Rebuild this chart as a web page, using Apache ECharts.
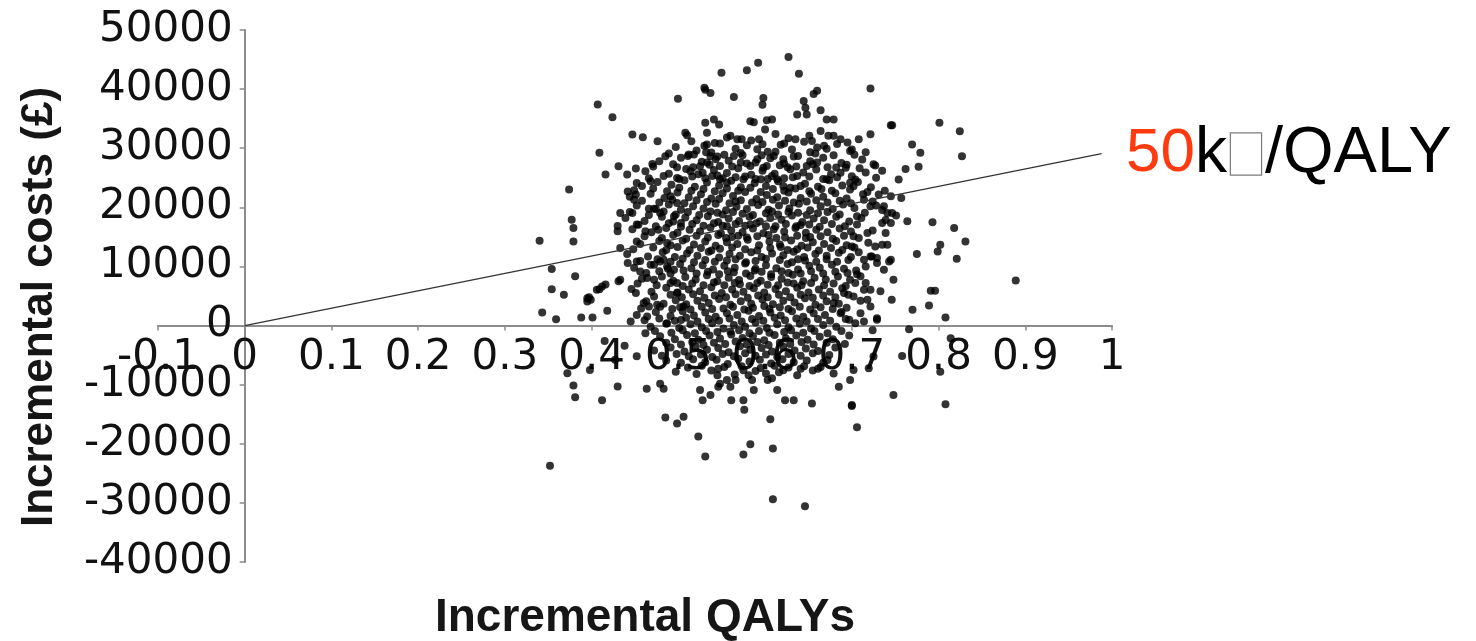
<!DOCTYPE html>
<html>
<head>
<meta charset="utf-8">
<script src="https://cdn.jsdelivr.net/npm/echarts@6/dist/echarts.min.js"></script>
<style>
html, body { margin: 0; padding: 0; background: #fff; }
#chart { width: 1476px; height: 641px; }
</style>
</head>
<body>
<div id="chart"></div>
<script>
// axis ranges: [min, max, step]
const qalyRange = [-0.1, 1, 0.1];
const costRange = [-40000, 50000, 10000];

const xTitle = 'Incremental QALYs';
const yTitle = 'Incremental costs (£)';
const thresholdRed = '50';
const thresholdK = 'k';
const thresholdTail = '/QALY';

// threshold line end points (QALY, cost)
const thresholdLine = [[0, 0], [0.988, 29100]];

// bootstrap replicates, outer points first
const edgePoints = [
    [0.352,-23700],[0.340,14360],[0.374,23000],[0.377,17910],[0.379,16500],[0.379,14240],
    [0.354,9560],[0.381,8360],[0.354,6160],[0.368,5200],[0.343,2200],[0.359,1080],
    [0.388,1350],[0.401,1350],[0.418,2490],[0.397,4800],[0.395,4070],[0.409,6160],
    [0.416,6950],[0.431,7510],[0.407,37410],[0.424,35260],[0.4995,38370],[0.530,40240],
    [0.537,39330],[0.531,39890],[0.447,32320],[0.459,31870],[0.476,31190],[0.409,29220],
    [0.431,26950],[0.451,26570],[0.441,25540],[0.416,25540],[0.452,24120],[0.468,24400],
    [0.470,27340],[0.485,28640],[0.510,32200],[0.512,28930],[0.518,28930],[0.4985,26780],
    [0.4985,24970],[0.514,26100],[0.525,26950],[0.533,30630],[0.537,28640],
    [0.5497,42770],[0.579,43180],[0.592,44480],[0.627,45430],[0.639,42610],[0.7215,40120],
    [0.564,38650],[0.598,38480],[0.597,37350],[0.660,39720],[0.656,39160],[0.6445,37980],
    [0.6465,36850],[0.637,35720],[0.648,35720],[0.664,36410],[0.671,34860],[0.679,34860],
    [0.745,33870],[0.801,34300],[0.583,34580],[0.587,34410],[0.541,34860],[0.547,34010],
    [0.531,34300],[0.533,32600],[0.602,34750],[0.608,34860],[0.600,33170],
    [0.560,32090],[0.568,31530],[0.573,31530],[0.593,31530],[0.597,30680],[0.591,29830],
    [0.635,31530],[0.651,32090],[0.654,31240],[0.660,30120],[0.668,30400],[0.673,32090],
    [0.679,32090],[0.687,31530],[0.695,30960],[0.708,31530],[0.7215,32370],[0.698,29550],
    [0.725,27300],[0.682,26740],[0.7465,33900],[0.8245,32880],[0.827,28650],[0.7695,30630],
    [0.779,29220],[0.777,26850],[0.762,26500],[0.754,24700],[0.727,27070],[0.700,29780],
    [0.757,21590],[0.764,17630],[0.793,17460],[0.818,16500],[0.831,14240],[0.802,13680],
    [0.799,12540],[0.775,12100],[0.821,11300],[0.889,7630],[0.748,7750],[0.746,4360],
    [0.791,5880],[0.796,5880],[0.789,3390],[0.770,2660],[0.808,1360],[0.729,1250],
    [0.766,-610],[0.758,-5140],[0.802,-7800],[0.814,-2140],[0.748,-11750],[0.808,-13320],
    [0.700,-13440],[0.702,-7510],
    [0.731,22150],[0.745,21870],[0.714,21300],[0.7215,20200],[0.737,20200],[0.741,19050],
    [0.7465,19050],[0.735,17360],[0.745,17360],[0.739,15660],[0.718,15660],[0.727,13390],
    [0.735,13680],[0.741,13680],[0.714,11140],[0.7215,11700],[0.729,10580],[0.743,10850],
    [0.737,9440],[0.710,8360],[0.716,7190],[0.7215,6050],[0.718,4360],[0.7215,3220],
    [0.710,2100],[0.714,680],[0.704,400],[0.700,25270],[0.702,23560],[0.706,18480],
    [0.702,15090],[0.700,13390],
    [0.530,30400],[0.538,29270],[0.533,27570],[0.543,28130],[0.548,27000],[0.528,25860],
    [0.539,25300],[0.548,24740],[0.556,24170],[0.564,28680],[0.572,27570],[0.583,27000],
    [0.591,28130],[0.602,27000],[0.610,28680],[0.621,28130],[0.629,26430],[0.614,24740],
    [0.595,24740],[0.575,24740],[0.637,25300],[0.648,27000],[0.660,27570],[0.671,24740],
    [0.687,25860],[0.698,24170],[0.641,23600],[0.621,23600],
    [0.4416,22660],[0.451,22150],[0.449,21300],[0.466,19780],[0.472,19780],[0.433,19050],
    [0.447,19050],[0.430,16830],[0.430,15970],[0.454,17070],[0.462,15970],[0.477,16220],
    [0.452,14240],[0.433,13110],[0.4416,10580],[0.452,10850],[0.468,10290],[0.456,9160],
    [0.464,8030],[0.472,7750],[0.479,10850],[0.487,10010],[0.433,7750],[0.406,6050],
    [0.412,6610],[0.395,4640],[0.399,4360],[0.451,5490],[0.460,3800],[0.466,3220],
    [0.4755,3510],[0.464,1530],[0.445,680],[0.487,13960],[0.479,19050],[0.491,21870],
    [0.4985,20740],[0.495,18480],[0.503,17360],[0.483,11140],[0.495,9440],[0.4985,7190],
    [0.4985,5490],[0.506,3220],[0.503,960],[0.487,400],
    [0.379,-10120],[0.381,-12110],[0.412,-12650],[0.430,-10290],[0.4635,-10680],[0.479,-9830],
    [0.483,-10680],[0.485,-15540],[0.4985,-16560],[0.506,-15430],[0.523,-18760],[0.531,-22150],
    [0.525,-10910],[0.537,-11750],[0.528,-12650],[0.546,-10340],[0.462,-1290],[0.398,-7510],
    [0.372,-8080],
    [0.685,-10340],[0.700,-13610],[0.706,-17220],[0.698,-9210],[0.654,-13170],[0.623,-12650],
    [0.633,-12650],[0.606,-15870],[0.583,-20100],[0.575,-21800],[0.609,-20780],[0.609,-29370],
    [0.646,-30560],[0.561,-12650],[0.575,-12650],[0.576,-14230],[0.587,-10910],[0.614,-10910],
    [0.560,-10340],[0.556,-9210],[0.548,-9830],[0.545,-8420],[0.553,-7010],[0.603,-9210],
    [0.608,-8930],[0.585,-9210],[0.566,-9210],[0.575,-7570],[0.581,-8420],[0.621,-7570],
    [0.641,-7290],[0.664,-7010],[0.672,-5820],[0.725,-5250],[0.7195,-7220],
    [0.735,19560],[0.739,17870],[0.723,11700],[0.729,11420],[0.745,11140],[0.695,8880],
    [0.698,7750],[0.704,7190],[0.691,5490],[0.702,4920],[0.714,6050],[0.679,3800],
    [0.687,2100],[0.697,970],[0.729,970],
    [0.415,-2600],[0.438,-3400],[0.452,-5200],[0.427,-5800]
];

// the dense middle of the cloud, read band by band
const corePoints = [
    [0.508,32600],[0.556,31800],[0.612,32400],[0.627,31700],[0.664,32900],
    [0.497,30200],[0.521,29600],[0.548,30800],[0.566,29900],[0.579,30500],[0.603,29400],
    [0.618,30600],[0.631,29800],[0.652,29300],[0.671,29900],[0.703,28900],
    [0.478,27800],[0.503,28400],[0.527,27700],[0.545,28600],[0.558,27900],[0.574,28800],
    [0.589,27600],[0.606,28300],[0.622,27400],[0.638,28700],[0.652,27800],[0.667,28400],
    [0.688,27500],[0.712,28100],
    [0.462,26100],[0.489,25700],[0.509,26500],[0.523,25600],[0.541,26300],[0.556,25800],
    [0.569,26600],[0.584,25500],[0.597,26200],[0.611,25700],[0.626,26800],[0.644,25900],
    [0.659,26400],[0.676,25600],[0.693,26700],[0.716,25900],[0.735,26200],
    [0.458,23600],[0.476,24300],[0.492,23800],[0.507,24600],[0.519,23500],[0.533,24200],
    [0.547,23700],[0.561,24500],[0.572,23400],[0.588,24100],[0.601,23600],[0.615,24400],
    [0.629,23300],[0.646,24000],[0.661,23500],[0.674,24600],[0.689,23700],[0.707,24300],
    [0.722,23400],
    [0.444,21800],[0.468,22300],[0.484,21600],[0.499,22500],[0.512,21700],[0.526,22200],
    [0.538,21500],[0.551,22400],[0.563,21900],[0.577,22600],[0.590,21400],[0.602,22100],
    [0.614,21700],[0.627,22500],[0.641,21600],[0.653,22300],[0.667,21800],[0.681,22400],
    [0.694,21500],[0.713,22200],[0.738,22800],
    [0.452,20300],[0.474,19700],[0.489,20500],[0.503,19600],[0.517,20200],[0.529,19800],
    [0.543,20600],[0.555,19500],[0.567,20100],[0.579,19700],[0.592,20400],[0.604,19600],
    [0.616,20300],[0.628,19800],[0.639,20600],[0.652,19500],[0.664,20200],[0.678,19700],
    [0.690,20500],[0.703,19900],[0.728,20300],
    [0.439,18200],[0.461,17700],[0.481,18400],[0.494,17600],[0.508,18300],[0.521,17800],
    [0.534,18500],[0.546,17500],[0.558,18100],[0.570,17700],[0.582,18400],[0.594,17600],
    [0.606,18200],[0.619,17900],[0.631,18600],[0.643,17500],[0.656,18100],[0.668,17800],
    [0.682,18400],[0.697,17600],[0.711,18200],[0.751,18600],
    [0.447,16300],[0.469,15800],[0.486,16500],[0.499,15700],[0.513,16200],[0.525,15900],
    [0.537,16600],[0.549,15600],[0.561,16100],[0.574,15800],[0.586,16400],[0.598,15600],
    [0.610,16300],[0.622,15900],[0.635,16500],[0.647,15700],[0.659,16200],[0.672,15800],
    [0.686,16400],[0.699,15900],[0.724,16100],
    [0.456,13800],[0.478,14300],[0.491,13600],[0.505,14400],[0.518,13700],[0.531,14200],
    [0.543,13500],[0.556,14100],[0.568,13800],[0.580,14500],[0.593,13600],[0.605,14200],
    [0.617,13700],[0.630,14400],[0.642,13500],[0.655,14100],[0.668,13800],[0.682,14300],
    [0.694,13600],[0.719,14000],
    [0.441,12100],[0.465,11700],[0.482,12400],[0.496,11600],[0.510,12200],[0.522,11800],
    [0.535,12500],[0.547,11500],[0.559,12100],[0.571,11800],[0.584,12400],[0.596,11600],
    [0.608,12200],[0.621,11900],[0.633,12500],[0.645,11600],[0.658,12100],[0.671,11800],
    [0.685,12300],[0.699,11600],[0.708,12400],
    [0.449,9800],[0.472,10300],[0.488,9600],[0.502,10400],[0.515,9700],[0.528,10200],
    [0.540,9500],[0.553,10100],[0.565,9800],[0.577,10500],[0.589,9600],[0.601,10200],
    [0.613,9700],[0.626,10400],[0.638,9500],[0.651,10100],[0.663,9800],[0.677,10300],
    [0.691,9600],[0.716,10000],
    [0.458,7900],[0.481,8300],[0.494,7600],[0.508,8200],[0.520,7800],[0.533,8500],
    [0.545,7500],[0.558,8100],[0.570,7700],[0.583,8400],[0.595,7600],[0.607,8200],
    [0.619,7900],[0.632,8600],[0.644,7500],[0.657,8100],[0.670,7800],[0.684,8300],
    [0.706,8700],
    [0.446,6200],[0.469,5700],[0.486,6400],[0.499,5600],[0.512,6100],[0.525,5800],
    [0.538,6500],[0.550,5500],[0.562,6100],[0.575,5700],[0.587,6300],[0.599,5600],
    [0.612,6200],[0.624,5800],[0.637,6400],[0.650,5600],[0.662,6100],[0.675,5700],
    [0.689,6300],[0.733,5800],
    [0.463,4100],[0.483,3700],[0.497,4300],[0.509,3600],[0.522,4200],[0.535,3800],
    [0.547,4500],[0.560,3500],[0.572,4100],[0.584,3700],[0.597,4400],[0.609,3600],
    [0.621,4200],[0.634,3900],[0.646,4600],[0.658,3500],[0.671,4100],[0.685,3700],
    [0.710,4200],
    [0.452,1800],[0.474,2300],[0.491,1600],[0.505,2400],[0.518,1700],[0.531,2200],
    [0.543,1500],[0.556,2100],[0.568,1800],[0.581,2500],[0.593,1600],[0.606,2200],
    [0.618,1700],[0.631,2400],[0.644,1500],[0.656,2100],[0.669,1800],[0.688,2300],
    [0.468,-200],[0.486,300],[0.501,-400],[0.514,200],[0.527,-300],[0.539,400],
    [0.552,-500],[0.564,100],[0.577,-200],[0.589,500],[0.602,-400],[0.614,200],
    [0.627,-300],[0.640,300],[0.653,-500],[0.667,100],[0.682,-200],[0.724,-800],
    [0.479,-1800],[0.496,-2300],[0.510,-1600],[0.523,-2400],[0.536,-1700],[0.548,-2200],
    [0.561,-1500],[0.574,-2100],[0.586,-1800],[0.599,-2500],[0.611,-1600],[0.624,-2200],
    [0.636,-1700],[0.649,-2400],[0.663,-1900],[0.678,-2300],[0.697,-1700],
    [0.472,-4200],[0.491,-3700],[0.507,-4400],[0.520,-3600],[0.533,-4100],[0.546,-3800],
    [0.558,-4500],[0.571,-3500],[0.583,-4100],[0.596,-3800],[0.608,-4400],[0.621,-3600],
    [0.634,-4200],[0.647,-3900],[0.661,-4300],[0.681,-3700],
    [0.486,-5900],[0.503,-6300],[0.517,-5700],[0.531,-6200],[0.544,-5800],[0.557,-6500],
    [0.569,-5600],[0.582,-6100],[0.594,-5800],[0.607,-6400],[0.620,-5700],[0.633,-6200],
    [0.648,-5900],[0.667,-6300],
    [0.497,-7800],[0.521,-8200],[0.538,-7600],[0.565,-8300],[0.589,-7700],[0.601,-8100],
    [0.616,-7900],[0.637,-8400],[0.655,-7600],[0.679,-8100],
    [0.551,24900],[0.577,25200],[0.603,24800],[0.632,25100],[0.566,21000],[0.597,20900],
    [0.623,21100],[0.648,21000],[0.545,19100],[0.574,18900],[0.601,19000],[0.627,19200],
    [0.661,19000],[0.551,16900],[0.583,17100],[0.612,16800],[0.641,17000],[0.562,15000],
    [0.591,15100],[0.623,14900],[0.652,15000],[0.548,13000],[0.577,12900],[0.606,13100],
    [0.637,12900],[0.556,11000],[0.589,10900],[0.617,11100],[0.646,11000],[0.564,9000],
    [0.596,9100],[0.627,8900],[0.571,7000],[0.603,6900],[0.633,7100],[0.552,2900],
    [0.586,3000],[0.617,3100],[0.560,-1000],[0.593,-900],[0.622,-1100]
];

// second pass over the core, the points between the first rows
const coreFill = [
    [0.515,31200],[0.542,30900],[0.584,31300],[0.622,30800],[0.645,31100],[0.683,30700],
    [0.489,29100],[0.511,28700],[0.532,29300],[0.553,28900],[0.572,29200],[0.596,28800],
    [0.612,29400],[0.633,28600],[0.658,29100],[0.679,28800],[0.716,29300],
    [0.471,26900],[0.494,27300],[0.517,26800],[0.536,27200],[0.562,26900],[0.579,27400],
    [0.598,26700],[0.617,27100],[0.636,26900],[0.655,27300],[0.672,26800],[0.694,27200],
    [0.709,26600],
    [0.466,24900],[0.483,25300],[0.501,24800],[0.516,25200],[0.531,24900],[0.545,25400],
    [0.566,25100],[0.589,24800],[0.608,25300],[0.622,24900],[0.651,25200],[0.667,24800],
    [0.683,25100],[0.704,24700],[0.728,25000],
    [0.449,22900],[0.471,23200],[0.487,22700],[0.501,23300],[0.515,22800],[0.529,23100],
    [0.542,22700],[0.556,23200],[0.569,22800],[0.583,23300],[0.595,22600],[0.609,23100],
    [0.622,22800],[0.635,23200],[0.651,22700],[0.665,23100],[0.677,22800],[0.698,23000],
    [0.718,22600],
    [0.458,21100],[0.478,20800],[0.493,21300],[0.507,20700],[0.521,21200],[0.533,20900],
    [0.547,21400],[0.559,20700],[0.572,21200],[0.585,20800],[0.609,21300],[0.633,20800],
    [0.659,21200],[0.672,20800],[0.686,21100],[0.699,20700],[0.724,21000],
    [0.444,19200],[0.466,18700],[0.483,19300],[0.497,18800],[0.511,19200],[0.524,18700],
    [0.537,19300],[0.551,18800],[0.563,19200],[0.586,18700],[0.608,19300],[0.615,18800],
    [0.638,19100],[0.648,18700],[0.672,19200],[0.686,18800],[0.715,19100],
    [0.452,17100],[0.474,16800],[0.489,17300],[0.503,16700],[0.516,17200],[0.529,16900],
    [0.541,17300],[0.556,16800],[0.566,17200],[0.577,16900],[0.590,17300],[0.601,16800],
    [0.624,17200],[0.636,16800],[0.651,17100],[0.663,16700],[0.677,17200],[0.692,16800],
    [0.706,17100],
    [0.461,15100],[0.481,14800],[0.494,15300],[0.509,14700],[0.521,15200],[0.534,14900],
    [0.546,15300],[0.555,14800],[0.569,15200],[0.579,14900],[0.604,15300],[0.613,14800],
    [0.637,15200],[0.647,14800],[0.664,15100],[0.678,14700],[0.691,15200],[0.708,14800],
    [0.448,12900],[0.471,13200],[0.486,12800],[0.499,13300],[0.513,12800],[0.526,13100],
    [0.538,12700],[0.562,13200],[0.591,12700],[0.618,13300],[0.626,12800],[0.649,13200],
    [0.662,12700],[0.676,13100],[0.689,12800],[0.703,13200],
    [0.456,10900],[0.476,11200],[0.491,10800],[0.505,11300],[0.518,10700],[0.531,11100],
    [0.542,10800],[0.566,11200],[0.578,10700],[0.601,11300],[0.631,10700],[0.638,11200],
    [0.659,10800],[0.671,11200],[0.683,10800],[0.696,11100],
    [0.463,8900],[0.478,9200],[0.491,8800],[0.506,9300],[0.521,8800],[0.534,9100],
    [0.547,8700],[0.557,9200],[0.578,8800],[0.588,9300],[0.607,8700],[0.619,9200],
    [0.641,8800],[0.653,9200],[0.667,8800],[0.681,9100],[0.705,9300],
    [0.453,7100],[0.475,6800],[0.491,7200],[0.505,6700],[0.516,7100],[0.529,6800],
    [0.541,7300],[0.553,6800],[0.565,7200],[0.582,6700],[0.591,7200],[0.615,6800],
    [0.626,7300],[0.642,6800],[0.653,7200],[0.668,6800],[0.679,7100],[0.693,6700],
    [0.472,4900],[0.491,5200],[0.504,4800],[0.517,5300],[0.530,4700],[0.542,5100],
    [0.555,4800],[0.566,5300],[0.580,4700],[0.592,5100],[0.603,4800],[0.616,5200],
    [0.629,4800],[0.641,5200],[0.655,4700],[0.667,5100],[0.681,4800],[0.696,5200],
    [0.457,2900],[0.479,3200],[0.493,2800],[0.502,3100],[0.514,2700],[0.527,3200],
    [0.539,2800],[0.563,3200],[0.576,2700],[0.599,3300],[0.605,2800],[0.627,2800],
    [0.640,3200],[0.652,2700],[0.664,3100],[0.678,2800],[0.694,3000],
    [0.461,900],[0.478,1200],[0.496,800],[0.509,1300],[0.522,700],[0.535,1100],
    [0.547,800],[0.559,1200],[0.573,700],[0.585,1100],[0.598,800],[0.611,1300],
    [0.623,900],[0.636,1200],[0.648,700],[0.661,1100],[0.675,800],[0.693,1100],
    [0.473,-900],[0.492,-1200],[0.505,-800],[0.519,-1300],[0.532,-900],[0.545,-1100],
    [0.570,-800],[0.582,-1300],[0.605,-1200],[0.630,-800],[0.644,-1200],[0.657,-900],
    [0.672,-1300],[0.688,-900],
    [0.486,-2900],[0.503,-3200],[0.516,-2800],[0.529,-3300],[0.541,-2900],[0.554,-3100],
    [0.566,-2700],[0.579,-3200],[0.591,-2800],[0.604,-3300],[0.617,-2900],[0.629,-3100],
    [0.642,-2800],[0.656,-3200],[0.671,-2900],[0.692,-3100],
    [0.481,-5100],[0.498,-4800],[0.512,-5200],[0.526,-4900],[0.539,-5300],[0.551,-4800],
    [0.564,-5200],[0.577,-4700],[0.589,-5100],[0.601,-4900],[0.614,-5300],[0.627,-4800],
    [0.641,-5100],[0.655,-4700],[0.674,-5000],
    [0.511,-7100],[0.527,-6800],[0.546,-7300],[0.573,-6900],[0.595,-7200],[0.611,-6800],
    [0.627,-7100],[0.645,-6900],[0.661,-7300]
];

const axisColor = '#8c8c8c';
const labelFont = {fontFamily: 'DejaVu Sans', fontSize: 42, color: '#111'};
const gridBox = {left: 158, right: 364, top: 30, bottom: 79};

// where zero sits inside the grid, so both axes can be shifted onto it
const gridW = 1476 - gridBox.left - gridBox.right;
const gridH = 641 - gridBox.top - gridBox.bottom;
const zeroX = gridW * (0 - qalyRange[0]) / (qalyRange[1] - qalyRange[0]);
const zeroY = gridH * (0 - costRange[0]) / (costRange[1] - costRange[0]);

const chart = echarts.init(document.getElementById('chart'), null, {renderer: 'canvas'});

chart.setOption({
    animation: false,
    backgroundColor: '#fff',
    grid: {...gridBox, containLabel: false, outerBoundsMode: 'none'},
    xAxis: {
        type: 'value',
        position: 'bottom',
        offset: -zeroY,
        min: qalyRange[0],
        max: qalyRange[1],
        interval: qalyRange[2],
        splitLine: {show: false},
        axisLine: {onZero: false, lineStyle: {color: axisColor, width: 2}},
        axisTick: {length: 5, lineStyle: {color: axisColor, width: 1.5}},
        axisLabel: {...labelFont, margin: 12, formatter: v => String(+v.toFixed(1))},
    },
    yAxis: {
        type: 'value',
        position: 'left',
        offset: -zeroX,
        min: costRange[0],
        max: costRange[1],
        interval: costRange[2],
        splitLine: {show: false},
        axisLine: {onZero: false, lineStyle: {color: axisColor, width: 2}},
        axisTick: {length: 5, lineStyle: {color: axisColor, width: 1.5}},
        axisLabel: {...labelFont, margin: 12, formatter: v => String(v)},
    },
    series: [{
        type: 'scatter',
        data: edgePoints.concat(corePoints, coreFill),
        symbol: 'circle',
        symbolSize: 8,
        itemStyle: {color: '#000'},
        emphasis: {disabled: true},
        z: 2,
    }, {
        type: 'line',
        data: thresholdLine,
        showSymbol: false,
        symbol: 'none',
        lineStyle: {color: '#333', width: 1.2},
        emphasis: {disabled: true},
        z: 3,
    }],
    graphic: [{
        type: 'text',
        x: 40,
        y: 307,
        rotation: Math.PI / 2,
        style: {
            text: yTitle,
            fontFamily: 'Liberation Sans',
            fontWeight: 'bold',
            fontSize: 44,
            fill: '#161616',
            align: 'center',
            verticalAlign: 'middle',
        },
    }, {
        type: 'text',
        x: 645,
        y: 618,
        style: {
            text: xTitle,
            fontFamily: 'Liberation Sans',
            fontWeight: 'bold',
            fontSize: 46,
            fill: '#161616',
            align: 'center',
            verticalAlign: 'middle',
        },
    }, {
        // the glyph box in the label is drawn as an empty framed slot
        type: 'text',
        x: 1126,
        y: 154,
        style: {
            text: '{r|' + thresholdRed + '}{k|' + thresholdK + '}{g| }{b| }{g| }{q|' + thresholdTail + '}',
            verticalAlign: 'middle',
            rich: {
                r: {fill: '#ff3a10', fontFamily: 'Liberation Sans', fontSize: 62},
                k: {fill: '#000', fontFamily: 'Liberation Sans', fontSize: 64},
                q: {fill: '#000', fontFamily: 'Liberation Sans', fontSize: 65},
                g: {fontSize: 62, width: 4},
                b: {
                    fontSize: 62, width: 30, height: 41, borderColor: '#7a7a7a',
                    borderWidth: 1.2, backgroundColor: '#fff',
                },
            },
        },
    }],
});
</script>
</body>
</html>
